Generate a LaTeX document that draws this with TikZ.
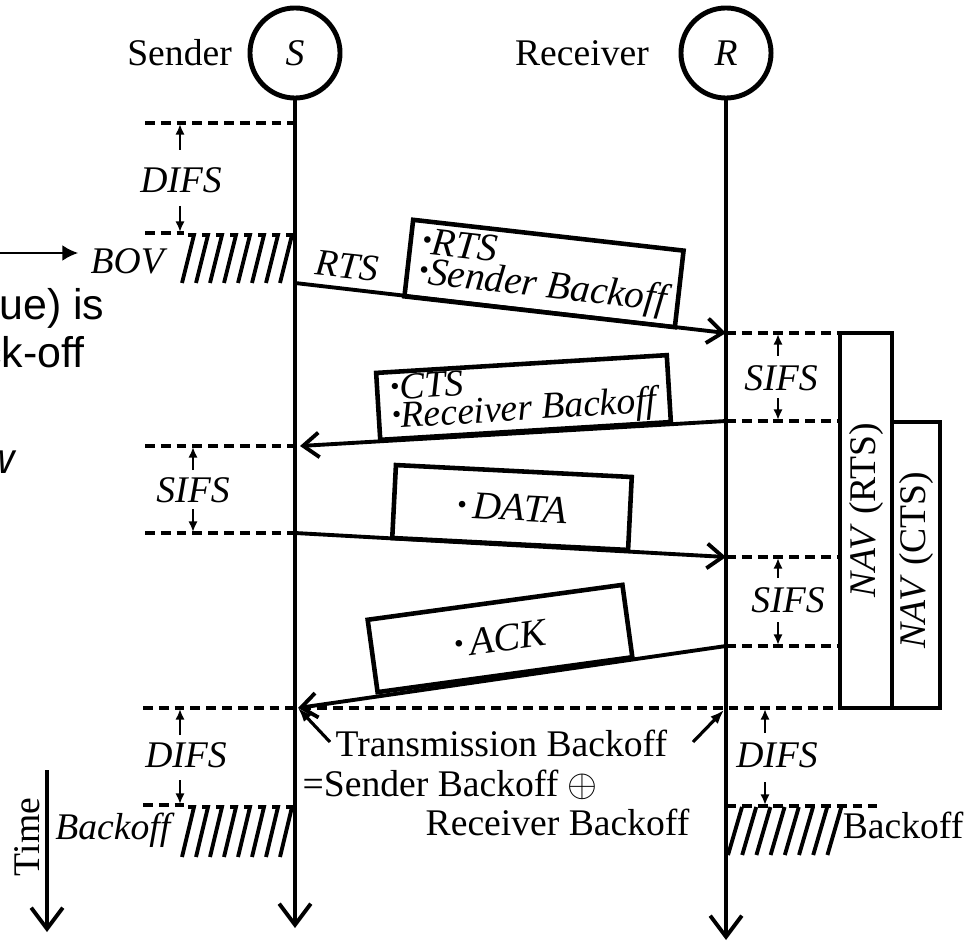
\documentclass[tikz,border=0pt]{standalone}
\usepackage{fontspec}
\usepackage{graphicx}
\setmainfont{Liberation Serif}
\newfontfamily\fragfont{Liberation Sans}
\usetikzlibrary{arrows.meta,positioning}

\newcommand\bul{\raisebox{0.25ex}{\scalebox{0.7}{\textbullet}}}

\tikzset{
  station/.style={circle, draw, line width=1.4pt, minimum size=0.9cm, inner sep=0pt},
  life/.style={line width=1.1pt, -{Straight Barb[length=6pt,width=9pt]}},
  msg/.style={line width=1.1pt, -{Straight Barb[length=4.5pt,width=7pt]}},
  ifsline/.style={line width=0.9pt, dash pattern=on 2.8pt off 1.7pt},
  gaparrow/.style={line width=0.8pt, -{Latex[length=3pt,width=2.6pt]}},
  pktbox/.style={draw, line width=1.3pt, inner sep=0pt, align=left,
    font=\fontsize{11.2pt}{12pt}\selectfont\itshape},
  hatch/.style={line width=1.1pt},
  navline/.style={line width=1.2pt},
  pointer/.style={line width=0.9pt, -{Latex[length=4pt,width=3pt]}},
  lbl/.style={inner sep=0pt},
  frag/.style={inner sep=0pt, font=\fragfont\fontsize{12.2pt}{14pt}\selectfont},
}

\begin{document}
\begin{tikzpicture}[x=0.01cm, y=-0.01cm, font=\fontsize{10.7pt}{12pt}\selectfont]
\useasboundingbox[fill=white] (0,0) rectangle (967,943);

% stations and lifelines
\node[station] (S) at (295,53) {\textit{S}};
\node[station] (R) at (726,53) {\textit{R}};
\node[lbl, left=0.15cm of S] (sname) {Sender};
\node[lbl, left=0.29cm of R] (rname) {Receiver};
\coordinate (Send) at (295,928);
\coordinate (Rend) at (726,940);
\draw[life] (S) -- (Send);
\draw[life] (R) -- (Rend);

% time axis
\coordinate (t0) at (47,770);
\coordinate (t1) at (47,932);
\draw[life] (t0) -- (t1);
\node[rotate=90] (time) at (27,837) {Time};

% cropped side text
\node[frag, anchor=base east] (frag1) at (105,320) {ue) is};
\node[frag, anchor=base east] (frag2) at (85,367) {ck-off};
\node[frag, anchor=base east] (frag3) at (15,473) {\itshape w};
\node (bov) at (129,261) {\textit{BOV}};
\coordinate (bovin) at (0,253);
\draw[line width=0.7pt, -{Latex[length=4.5pt,width=4.5pt]}] (bovin) -- (bovin -| bov.west);

% interframe spaces
\draw[ifsline] (145,123) -- (295,123);
\draw[ifsline] (145,233) -- (184,233);
\draw[ifsline] (145,446) -- (295,446);
\draw[ifsline] (145,533) -- (295,533);
\draw[ifsline] (143,708) -- (840,708);
\draw[ifsline] (143,805) -- (184,805);
\draw[ifsline] (726,333) -- (840,333);
\draw[ifsline] (726,421) -- (840,421);
\draw[ifsline] (726,557) -- (840,557);
\draw[ifsline] (726,646) -- (840,646);
\draw[ifsline] (726,806) -- (877,806);

\node (difsA) at (181,180) {\textit{DIFS}};
\node (sifsA) at (193,490) {\textit{SIFS}};
\node (difsB) at (186,755) {\textit{DIFS}};
\node (sifsB) at (781,378) {\textit{SIFS}};
\node (sifsC) at (788,600) {\textit{SIFS}};
\node (difsC) at (777,755) {\textit{DIFS}};

\draw[gaparrow] (180,150) -- (180,124);
\draw[gaparrow] (180,206) -- (180,232);
\draw[gaparrow] (193,470) -- (193,447);
\draw[gaparrow] (193,509) -- (193,532);
\draw[gaparrow] (180,735) -- (180,709);
\draw[gaparrow] (180,780) -- (180,804);
\draw[gaparrow] (778,356) -- (778,334);
\draw[gaparrow] (778,398) -- (778,420);
\draw[gaparrow] (778,578) -- (778,558);
\draw[gaparrow] (778,622) -- (778,645);
\draw[gaparrow] (765,733) -- (765,709);
\draw[gaparrow] (765,782) -- (765,805);

% backoff hatching
\foreach \i in {0,...,7} {
  \draw[hatch] (182+14*\i,283) -- (194+14*\i,235) -- (188+14*\i,235);
  \draw[hatch] (182+14*\i,857) -- (194+14*\i,807) -- (188+14*\i,807);
  \draw[hatch] (728+14.2*\i,855) -- (742+14.2*\i,807);
}
\node (bo) at (115,830) {\textit{Backoff}};
\node (bor) at (903,825) {Backoff};

% frames
\coordinate (rtsS) at (295,283);
\coordinate (rtsR) at (726,333);
\coordinate (ctsR) at (726,421);
\coordinate (ctsS) at (300,446);
\coordinate (dataS) at (295,533);
\coordinate (dataR) at (726,557);
\coordinate (ackR) at (726,646);
\coordinate (ackS) at (298,708);
\draw[msg] (rtsS) -- (rtsR);
\draw[msg] (ctsR) -- (ctsS);
\draw[msg] (dataS) -- (dataR);
\draw[msg] (ackR) -- (ackS);
\node[rotate=-6] (rtslbl) at (347,266) {\textit{RTS}};

\node[pktbox, rotate=-6.5, minimum width=2.72cm, minimum height=0.77cm] (rtsbox) at (544,273.5)
  {\bul RTS\\[-3.5pt]\bul Sender Backoff};
\node[pktbox, rotate=3.5, minimum width=2.91cm, minimum height=0.67cm,
  font=\fontsize{10.7pt}{12pt}\selectfont\itshape] (ctsbox) at (523.5,397.5)
  {\bul CTS\\[-4pt]\bul Receiver Backoff};
\node[pktbox, rotate=-2.9, minimum width=2.36cm, minimum height=0.73cm] (databox) at (512,507.5)
  {\bul\,DATA};
\node[pktbox, rotate=7.8, minimum width=2.57cm, minimum height=0.73cm] (ackbox) at (500,638.5)
  {\bul\,ACK};

% NAV
\draw[navline] (840,708) rectangle (892,333);
\draw[navline] (892,708) rectangle (940,422);
\node[rotate=90] (navrts) at (866,510) {\textit{NAV} (RTS)};
\node[rotate=90] (navcts) at (916,560) {\textit{NAV} (CTS)};

% transmission backoff note
\node[lbl, anchor=base west] (tb1) at (335,756) {Transmission Backoff};
\node[lbl, anchor=base west] (tb2) at (302,796) {=Sender Backoff $\oplus$};
\node[lbl, anchor=base west] (tb3) at (425,835) {Receiver Backoff};
\coordinate (pl) at (330,742);
\coordinate (pr) at (693,742);
\coordinate (ptR) at (724,710);
\draw[pointer] (pl) -- (ackS);
\draw[pointer] (pr) -- (ptR);
\end{tikzpicture}
\end{document}
